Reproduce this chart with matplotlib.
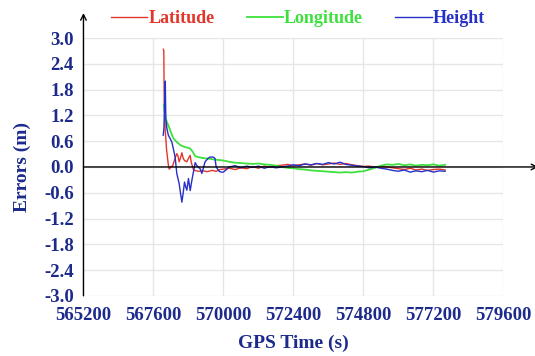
import matplotlib
matplotlib.use("Agg")
import matplotlib.pyplot as plt
from matplotlib.ticker import FormatStrFormatter

# GPS time (s) for the noisy start, one list per series
lat_head_t = [567940, 567955, 567970, 568000, 568050, 568110, 568140, 568200, 568260, 568330,
              568400, 568440, 568480, 568530, 568575, 568620, 568665, 568745, 568800, 568858,
              568900, 568970, 569050, 569150, 569300, 569450, 569600, 569750, 569880]
lat_head_v = [2.74, 2.70, 1.50, 0.90, 0.40, 0.05, -0.05, 0.00, 0.03, 0.18,
              0.31, 0.26, 0.12, 0.22, 0.33, 0.20, 0.15, 0.12, 0.20, 0.27,
              0.10, -0.06, -0.09, -0.10, -0.09, -0.11, -0.08, -0.10, -0.06]

lon_head_t = [567955, 567985, 568010, 568060, 568120, 568170, 568230, 568290, 568400, 568520,
              568650, 568760, 568860, 568950, 569030, 569200, 569370, 569540, 569700, 569880]
lon_head_v = [1.45, 1.30, 1.17, 1.05, 0.95, 0.86, 0.75, 0.66, 0.58, 0.51,
              0.47, 0.45, 0.43, 0.35, 0.25, 0.22, 0.20, 0.19, 0.17, 0.16]

hgt_head_t = [567935, 567960, 567985, 568005, 568025, 568060, 568110, 568180, 568230, 568290,
              568345, 568400, 568450, 568480, 568530, 568575, 568620, 568665, 568700, 568745,
              568800, 568860, 568920, 568970, 569030, 569100, 569200, 569260, 569320, 569370,
              569470, 569540, 569650, 569710, 569750, 569850, 569920]
hgt_head_v = [0.74, 0.90, 1.60, 2.00, 1.10, 0.90, 0.74, 0.65, 0.58, 0.40,
              0.22, -0.15, -0.30, -0.38, -0.62, -0.82, -0.60, -0.35, -0.45, -0.54,
              -0.27, -0.55, -0.30, -0.12, 0.10, 0.02, -0.04, -0.15, 0.00, 0.12,
              0.20, 0.23, 0.23, 0.20, 0.00, -0.10, -0.12]

# settled part, shared time axis
tail_t = [570000, 570200, 570400, 570600, 570800, 571000, 571200, 571400, 571600, 571800,
          572000, 572200, 572400, 572600, 572800, 573000, 573200, 573400, 573600, 573800,
          574000, 574200, 574400, 574600, 574800, 575000, 575200, 575400, 575600, 575800,
          576000, 576200, 576400, 576600, 576800, 577000, 577200, 577400, 577600]
lat_tail = [-0.05, -0.03, -0.06, -0.02, -0.04, 0.01, -0.03, 0.02, -0.01, 0.03,
            0.04, 0.06, 0.03, 0.05, 0.07, 0.04, 0.08, 0.05, 0.07, 0.09,
            0.06, 0.08, 0.05, 0.03, 0.01, 0.02, -0.01, 0.01, 0.00, -0.02,
            -0.04, -0.06, -0.03, -0.07, -0.05, -0.08, -0.06, -0.05, -0.07]
lon_tail = [0.15, 0.12, 0.10, 0.09, 0.08, 0.07, 0.08, 0.06, 0.05, 0.03,
            0.00, -0.02, -0.03, -0.05, -0.06, -0.08, -0.09, -0.10, -0.11, -0.12,
            -0.13, -0.12, -0.13, -0.11, -0.10, -0.06, -0.02, 0.03, 0.06, 0.05,
            0.07, 0.04, 0.06, 0.03, 0.05, 0.04, 0.06, 0.03, 0.05]
hgt_tail = [-0.12, 0.00, 0.03, -0.02, 0.02, -0.01, 0.02, -0.03, 0.01, -0.02,
            0.00, 0.02, 0.05, 0.03, 0.07, 0.05, 0.08, 0.06, 0.10, 0.07,
            0.11, 0.06, 0.04, 0.02, 0.01, -0.02, 0.00, -0.03, -0.05, -0.08,
            -0.10, -0.07, -0.12, -0.09, -0.11, -0.08, -0.12, -0.09, -0.10]

x_ticks = [565200, 567600, 570000, 572400, 574800, 577200, 579600]
y_ticks = [-3.0, -2.4, -1.8, -1.2, -0.6, 0.0, 0.6, 1.2, 1.8, 2.4, 3.0]

RED = "#e2362c"
GREEN = "#3ee03e"
BLUE = "#2630c8"
NAVY = "#1c2a8c"

plt.rcParams["font.family"] = ["Liberation Serif", "DejaVu Serif"]
plt.rcParams["font.weight"] = "bold"

fig = plt.figure(figsize=(5.35, 3.56), dpi=100)
ax = fig.add_axes([0.156, 0.169, 0.785, 0.724])

ax.plot(lat_head_t + tail_t, lat_head_v + lat_tail, color=RED, lw=1.0, label="Latitude")
ax.plot(lon_head_t + tail_t, lon_head_v + lon_tail, color=GREEN, lw=1.3, label="Longitude")
ax.plot(hgt_head_t + tail_t, hgt_head_v + hgt_tail, color=BLUE, lw=1.0, label="Height")

ax.set_xlim(565200, 579600)
ax.set_ylim(-3.0, 3.0)
ax.set_xticks(x_ticks)
ax.set_yticks(y_ticks)
ax.yaxis.set_major_formatter(FormatStrFormatter("%.1f"))
ax.grid(True, color="#e6e6e6", lw=1.0)
ax.set_axisbelow(True)
for s in ax.spines.values():
    s.set_visible(False)
ax.tick_params(length=0, labelsize=13.5, labelcolor=NAVY)
ax.tick_params(axis="x", pad=8)
ax.tick_params(axis="y", pad=7)
for lab in ax.get_xticklabels() + ax.get_yticklabels():
    lab.set_fontweight("bold")

# axis arrows
ax.annotate("", xy=(0, 1.097), xytext=(0, 0), xycoords="axes fraction",
            arrowprops=dict(arrowstyle="->", color="black", lw=1.0, shrinkA=0, shrinkB=0))
ax.annotate("", xy=(1.083, 0.5), xytext=(0, 0.5), xycoords="axes fraction",
            arrowprops=dict(arrowstyle="->", color="black", lw=1.0, shrinkA=0, shrinkB=0))

ax.set_xlabel("GPS Time (s)", color=NAVY, fontsize=14, fontweight="bold", labelpad=8)
ax.set_ylabel("Errors (m)", color=NAVY, fontsize=14, fontweight="bold", labelpad=9)

leg = ax.legend(ncol=3, loc="center", bbox_to_anchor=(0.557, 0.948),
                bbox_transform=fig.transFigure, frameon=False, fontsize=13,
                handlelength=2.0, handletextpad=0.05, columnspacing=1.8,
                labelcolor="linecolor")
for t in leg.get_texts():
    t.set_fontweight("bold")

fig.savefig("out.png", dpi=100)
